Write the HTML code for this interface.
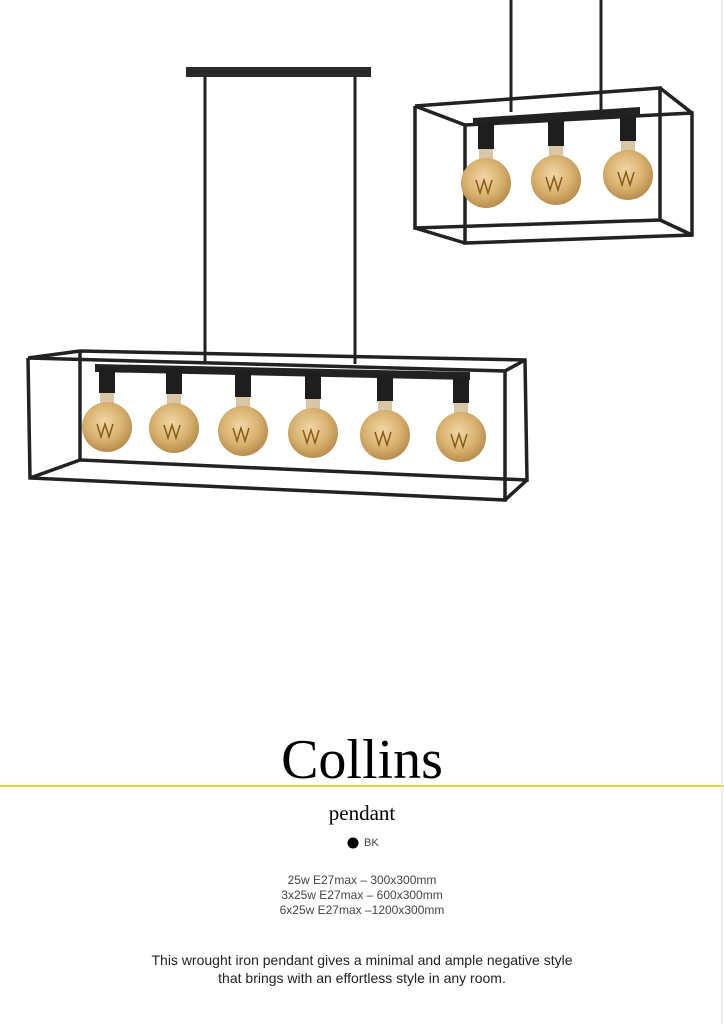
<!DOCTYPE html>
<html><head><style>
body{margin:0;background:#fff;width:724px;height:1024px;overflow:hidden;position:relative;font-family:"Liberation Sans",sans-serif}
.t{position:absolute;left:0;width:724px;text-align:center}
</style></head><body>
<svg width="724" height="1024" style="position:absolute;left:0;top:0">
<defs>
<radialGradient id="b" cx="45%" cy="40%" r="60%"><stop offset="0" stop-color="#f0d7a6"/><stop offset="0.6" stop-color="#d9b270"/><stop offset="1" stop-color="#b88d4e"/></radialGradient>
<g id="bulb"><rect x="-8" y="-60" width="16" height="26" fill="#1e1e1e"/><rect x="-7" y="-34" width="14" height="12" fill="#d8c6a4"/><circle r="25" fill="url(#b)"/><path d="M-10 -3 L-6 10 L-2 -3 L2 10 L6 -3" stroke="#8a5a18" fill="none" stroke-width="1.5"/></g>
</defs>
<g stroke="#222" fill="none" stroke-width="3.5">
<!-- large lamp -->
<rect x="186" y="67" width="185" height="10" fill="#2a2a2a" stroke="none"/>
<line x1="205" y1="76" x2="205" y2="364" stroke-width="3"/>
<line x1="355" y1="76" x2="355" y2="364" stroke-width="3"/>
<polyline points="80,351 525,360 527,480 80,460 80,351"/>
<polyline points="28,358 505,371 505,500 30,478 28,358"/>
<line x1="28" y1="358" x2="80" y2="351"/><line x1="505" y1="371" x2="525" y2="360"/>
<line x1="30" y1="478" x2="80" y2="460"/><line x1="505" y1="500" x2="527" y2="480"/>
<polygon points="95,364 470,372 470,380 95,372" fill="#222" stroke="none"/>
<!-- small lamp -->
<line x1="511" y1="0" x2="511" y2="112" stroke-width="3"/>
<line x1="601" y1="0" x2="601" y2="110" stroke-width="3"/>
<polyline points="415,106 660,88 660,220 415,228 415,106"/>
<polyline points="465,125 692,113 692,235 465,243 465,125"/>
<line x1="415" y1="106" x2="465" y2="125"/><line x1="660" y1="88" x2="692" y2="113"/>
<line x1="415" y1="228" x2="465" y2="243"/><line x1="660" y1="220" x2="692" y2="235"/>
<polygon points="473,118 640,107 640,115 473,126" fill="#222" stroke="none"/>
</g>
<use href="#bulb" x="107" y="427"/><use href="#bulb" x="174" y="428"/><use href="#bulb" x="243" y="431"/>
<use href="#bulb" x="313" y="433"/><use href="#bulb" x="385" y="435"/><use href="#bulb" x="461" y="437"/>
<use href="#bulb" x="486" y="183"/><use href="#bulb" x="556" y="180"/><use href="#bulb" x="628" y="175"/>
<line x1="0" y1="786" x2="724" y2="786" stroke="#e3d240" stroke-width="2"/>
<line x1="722" y1="0" x2="722" y2="1024" stroke="#ddd" stroke-width="1"/>
<circle cx="353" cy="843" r="5.5" fill="#000"/>
</svg>
<div class="t" style="top:728px;font-family:'Liberation Serif',serif;font-size:56px;color:#000;line-height:64px">Collins</div>
<div class="t" style="top:800px;font-family:'Liberation Serif',serif;font-size:21px;line-height:26px">pendant</div>
<div style="position:absolute;left:364px;top:837px;font-size:11px;color:#444">BK</div>
<div class="t" style="top:873px;font-size:12px;color:#444;line-height:15px">25w E27max – 300x300mm<br>3x25w E27max – 600x300mm<br>6x25w E27max –1200x300mm</div>
<div class="t" style="top:951px;font-size:14px;color:#222;line-height:18px">This wrought iron pendant gives a minimal and ample negative style<br>that brings with an effortless style in any room.</div>
</body></html>
